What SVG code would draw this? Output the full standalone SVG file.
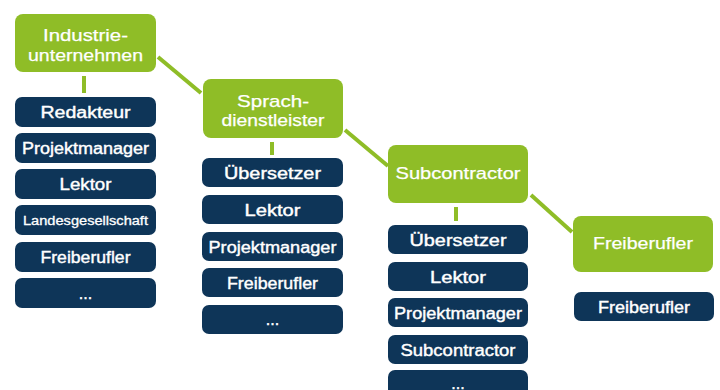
<svg xmlns="http://www.w3.org/2000/svg" width="720" height="390" viewBox="0 0 720 390">
<style>
.g{fill:#8fbd27}
.d{fill:#0e3558}
.t{font-family:"Liberation Sans",Arial,sans-serif;fill:#fff;stroke:#fff;stroke-width:0.4px;text-anchor:middle;font-size:16px}
.tg{font-size:17px;stroke-width:0.25px}
.c{stroke:#8fbd27;stroke-width:4;fill:none}
</style>
<rect width="720" height="390" fill="#fff"/>
<g id="connectors">
<line class="c" x1="84" y1="76" x2="84" y2="93"/>
<line class="c" x1="272" y1="142" x2="272" y2="155"/>
<line class="c" x1="456" y1="207" x2="456" y2="221"/>
<line class="c" x1="158" y1="57" x2="201" y2="93"/>
<line class="c" x1="345" y1="130" x2="388" y2="166"/>
<line class="c" x1="531" y1="195" x2="572" y2="232"/>
</g>
<g id="industrieunternehmen"><rect class="g" x="15" y="14" width="141" height="58" rx="8"/><text class="t tg" x="85.5" y="41" textLength="85" lengthAdjust="spacingAndGlyphs">Industrie-</text><text class="t tg" x="85.5" y="61" textLength="115" lengthAdjust="spacingAndGlyphs">unternehmen</text></g>
<g id="c1-redakteur"><rect class="d" x="15" y="97" width="141" height="30" rx="7"/><text class="t" x="85.5" y="117.5" textLength="90" lengthAdjust="spacingAndGlyphs">Redakteur</text></g>
<g id="c1-projektmanager"><rect class="d" x="15" y="133" width="141" height="30" rx="7"/><text class="t" x="85.5" y="153.5" textLength="127" lengthAdjust="spacingAndGlyphs">Projektmanager</text></g>
<g id="c1-lektor"><rect class="d" x="15" y="169" width="141" height="30" rx="7"/><text class="t" x="85.5" y="189.5" textLength="52" lengthAdjust="spacingAndGlyphs">Lektor</text></g>
<g id="c1-landesgesellschaft"><rect class="d" x="15" y="205" width="141" height="30" rx="7"/><text class="t" x="85.5" y="224.5" style="font-size:12.5px;stroke-width:0.3px" textLength="125" lengthAdjust="spacingAndGlyphs">Landesgesellschaft</text></g>
<g id="c1-freiberufler"><rect class="d" x="15" y="242" width="141" height="30" rx="7"/><text class="t" x="85.5" y="262.5" textLength="90" lengthAdjust="spacingAndGlyphs">Freiberufler</text></g>
<g id="c1-more"><rect class="d" x="15" y="278" width="141" height="30" rx="7"/><text class="t" x="85.5" y="298.5">...</text></g>
<g id="sprachdienstleister"><rect class="g" x="203" y="79" width="140" height="59" rx="8"/><text class="t tg" x="273" y="107" textLength="72" lengthAdjust="spacingAndGlyphs">Sprach-</text><text class="t tg" x="273" y="126" textLength="103" lengthAdjust="spacingAndGlyphs">dienstleister</text></g>
<g id="c2-uebersetzer"><rect class="d" x="202" y="158" width="141" height="29" rx="7"/><text class="t" x="272.5" y="178.5" textLength="97" lengthAdjust="spacingAndGlyphs">Übersetzer</text></g>
<g id="c2-lektor"><rect class="d" x="202" y="195" width="141" height="29" rx="7"/><text class="t" x="272.5" y="215.5" textLength="56" lengthAdjust="spacingAndGlyphs">Lektor</text></g>
<g id="c2-projektmanager"><rect class="d" x="202" y="232" width="141" height="29" rx="7"/><text class="t" x="272.5" y="252.5" textLength="128" lengthAdjust="spacingAndGlyphs">Projektmanager</text></g>
<g id="c2-freiberufler"><rect class="d" x="202" y="268" width="141" height="29" rx="7"/><text class="t" x="272.5" y="288.5" textLength="91" lengthAdjust="spacingAndGlyphs">Freiberufler</text></g>
<g id="c2-more"><rect class="d" x="202" y="305" width="141" height="29" rx="7"/><text class="t" x="272.5" y="325">...</text></g>
<g id="subcontractor"><rect class="g" x="388" y="145" width="140" height="58" rx="8"/><text class="t tg" x="458" y="179" textLength="125" lengthAdjust="spacingAndGlyphs">Subcontractor</text></g>
<g id="c3-uebersetzer"><rect class="d" x="388" y="225" width="140" height="29" rx="7"/><text class="t" x="458" y="245.5" textLength="97" lengthAdjust="spacingAndGlyphs">Übersetzer</text></g>
<g id="c3-lektor"><rect class="d" x="388" y="262" width="140" height="29" rx="7"/><text class="t" x="458" y="282.5" textLength="56" lengthAdjust="spacingAndGlyphs">Lektor</text></g>
<g id="c3-projektmanager"><rect class="d" x="388" y="298" width="140" height="29" rx="7"/><text class="t" x="458" y="318.5" textLength="128" lengthAdjust="spacingAndGlyphs">Projektmanager</text></g>
<g id="c3-subcontractor"><rect class="d" x="388" y="335" width="140" height="29" rx="7"/><text class="t" x="458" y="355.5" textLength="115" lengthAdjust="spacingAndGlyphs">Subcontractor</text></g>
<g id="c3-more"><rect class="d" x="388" y="370" width="140" height="29" rx="7"/><text class="t" x="458" y="389">...</text></g>
<g id="freiberufler"><rect class="g" x="573" y="216" width="140" height="56" rx="8"/><text class="t tg" x="643" y="249" textLength="100" lengthAdjust="spacingAndGlyphs">Freiberufler</text></g>
<g id="c4-freiberufler"><rect class="d" x="574" y="292" width="140" height="29" rx="7"/><text class="t" x="644" y="312.5" textLength="92" lengthAdjust="spacingAndGlyphs">Freiberufler</text></g>
</svg>
